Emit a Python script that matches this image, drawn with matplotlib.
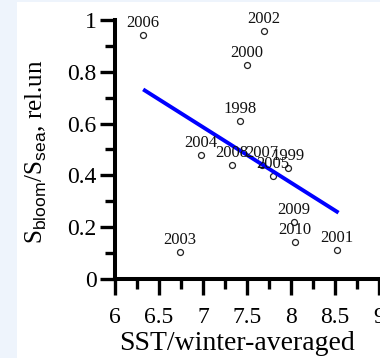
import matplotlib
matplotlib.use("Agg")
import matplotlib.pyplot as plt
from matplotlib.patches import Rectangle
from matplotlib.ticker import MultipleLocator

plt.rcParams["font.family"] = ["Liberation Serif", "DejaVu Serif"]
plt.rcParams["mathtext.fontset"] = "custom"
plt.rcParams["mathtext.rm"] = "Liberation Serif"
plt.rcParams["mathtext.sf"] = "Liberation Sans"

# Bloom area fraction versus winter-averaged SST, one point per year
years = ["2006", "2002", "2000", "1998", "2004", "2008", "2007",
         "2005", "1999", "2009", "2010", "2001", "2003"]
sst = [6.32, 7.69, 7.50, 7.42, 6.98, 7.33, 7.67,
       7.79, 7.97, 8.03, 8.04, 8.52, 6.74]
ratio = [0.942, 0.959, 0.826, 0.610, 0.479, 0.441, 0.440,
         0.398, 0.427, 0.221, 0.144, 0.112, 0.105]

# Linear trend endpoints
fit_x = [6.32, 8.54]
fit_y = [0.732, 0.256]

x_ticks = [6, 6.5, 7, 7.5, 8, 8.5, 9]
x_ticklabels = ["6", "6.5", "7", "7.5", "8", "8.5", "9"]
y_ticks = [0, 0.2, 0.4, 0.6, 0.8, 1.0]
y_ticklabels = ["0", "0.2", "0.4", "0.6", "0.8", "1"]

W, H = 380, 358
fig = plt.figure(figsize=(W / 100, H / 100), dpi=100)
fig.patch.set_facecolor("white")
# pale band along the left and top edges
fig.patches.append(Rectangle((0, 0), 17 / W, 1, transform=fig.transFigure,
                             facecolor="#eef4fc", edgecolor="none", zorder=0))
fig.patches.append(Rectangle((0, 1 - 2 / H), 1, 2 / H, transform=fig.transFigure,
                             facecolor="#eef4fc", edgecolor="none", zorder=0))

ax = fig.add_axes([115 / W, 1 - 279 / H, 264 / W, 259 / H])
ax.set_facecolor("none")

ax.plot(sst, ratio, linestyle="none", marker="o", markersize=4.3,
        markerfacecolor="white", markeredgecolor="#222222",
        markeredgewidth=0.9, zorder=2, clip_on=False)
ax.plot(fit_x, fit_y, color="#0000ff", linewidth=2.8, zorder=3,
        solid_capstyle="butt")

for yr, xv, yv in zip(years, sst, ratio):
    ax.annotate(yr, (xv, yv), xytext=(0, 5.8), textcoords="offset points",
                ha="center", va="baseline", fontsize=12, color="#111111",
                zorder=4)

ax.set_xlim(6, 9)
ax.set_ylim(0, 1)
ax.set_xticks(x_ticks)
ax.set_xticklabels(x_ticklabels)
ax.set_yticks(y_ticks)
ax.set_yticklabels(y_ticklabels)
ax.xaxis.set_minor_locator(MultipleLocator(0.25))
ax.yaxis.set_minor_locator(MultipleLocator(0.1))

for side in ("top", "right"):
    ax.spines[side].set_visible(False)
for side in ("left", "bottom"):
    ax.spines[side].set_linewidth(2.9)
    ax.spines[side].set_color("black")
    ax.spines[side].set_capstyle("projecting")

ax.tick_params(axis="x", which="major", direction="out", length=11.5,
               width=2.4, labelsize=17, pad=8.5, color="black")
ax.tick_params(axis="y", which="major", direction="out", length=11,
               width=2.4, labelsize=17, pad=2.2, color="black")
ax.tick_params(axis="both", which="minor", direction="out", length=7.3,
               width=2.4, color="black")

ax.set_xlabel("SST/winter-averaged", fontsize=20)
ax.xaxis.set_label_coords(0.462, -0.2)
ax.set_ylabel(r"$\mathrm{S}_{\mathsf{bloom}}\text{/S}_{\mathsf{sea}}\text{, rel.un}$",
              fontsize=18)
ax.yaxis.set_label_coords(-0.25, 0.49)

fig.savefig("out.png", dpi=100)
